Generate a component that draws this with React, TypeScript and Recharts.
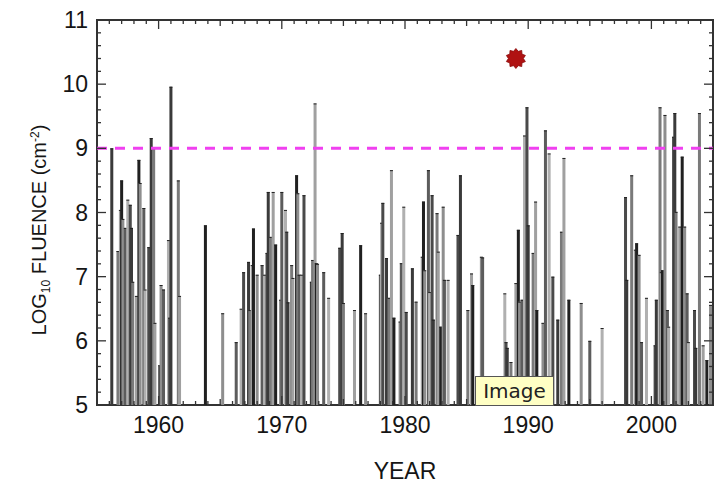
import React from "react";
import {
  ComposedChart,
  Bar,
  Cell,
  Scatter,
  XAxis,
  YAxis,
  ReferenceLine,
  ReferenceArea,
} from "recharts";

// Event years and peak fluence (log10 cm^-2)
const eventYears = [
  1956.2, 1956.7, 1956.9, 1957.0, 1957.1, 1957.3, 1957.5, 1957.7, 1957.8, 1957.9,
  1958.2, 1958.4, 1958.5, 1958.8, 1958.9, 1959.2, 1959.4, 1959.6, 1959.7, 1960.1,
  1960.2, 1960.4, 1960.8, 1960.9, 1961.0, 1961.6, 1961.7, 1963.8, 1965.2, 1966.3,
  1966.7, 1966.9, 1967.3, 1967.4, 1967.6, 1967.7, 1968.0, 1968.4, 1968.6, 1968.8,
  1968.9, 1969.1, 1969.3, 1969.5, 1969.9, 1970.0, 1970.3, 1970.4, 1970.5, 1970.8,
  1970.9, 1971.2, 1971.3, 1971.4, 1971.6, 1971.8, 1972.4, 1972.5, 1972.7, 1972.8,
  1972.9, 1973.4, 1973.8, 1974.7, 1974.9, 1975.0, 1975.9, 1976.4, 1976.8, 1978.0,
  1978.1, 1978.2, 1978.5, 1978.7, 1978.9, 1979.1, 1979.6, 1979.7, 1979.9, 1980.1,
  1980.6, 1980.9, 1981.4, 1981.5, 1981.6, 1981.9, 1982.0, 1982.2, 1982.3, 1982.6,
  1982.7, 1982.9, 1983.1, 1983.2, 1983.5, 1984.3, 1984.5, 1985.1, 1985.4, 1985.5,
  1986.2, 1986.3, 1988.1, 1988.2, 1988.3, 1988.6, 1989.0, 1989.2, 1989.3, 1989.5,
  1989.7, 1989.9, 1990.0, 1990.4, 1990.6, 1990.7, 1991.2, 1991.4, 1991.7, 1992.0,
  1992.4, 1992.7, 1992.9, 1993.3, 1994.3, 1995.0, 1996.0, 1997.9, 1998.0, 1998.4,
  1998.7, 1998.8, 1999.0, 1999.2, 1999.6, 2000.3, 2000.4, 2000.7, 2000.8, 2000.9,
  2001.1, 2001.3, 2001.4, 2001.8, 2001.9, 2002.0, 2002.3, 2002.5, 2002.7, 2002.9,
  2003.0, 2003.5, 2003.6, 2003.9, 2004.2, 2004.5, 2004.8,
];

const eventFluence = [
  9.0, 7.4, 8.04, 8.5, 7.9, 7.76, 8.2, 8.12, 7.76, 6.92,
  6.7, 8.82, 8.46, 8.07, 6.8, 7.46, 9.16, 9.0, 6.28, 5.62,
  6.87, 6.8, 7.57, 6.36, 9.96, 8.5, 6.7, 7.8, 6.43, 5.98,
  6.5, 7.07, 7.23, 6.48, 7.18, 7.75, 7.03, 7.18, 7.03, 7.37,
  8.32, 7.62, 8.32, 7.5, 6.64, 8.32, 8.04, 7.7, 6.6, 7.18,
  6.98, 8.58, 8.3, 7.03, 7.03, 8.27, 6.92, 7.26, 9.7, 7.21,
  7.2, 7.07, 6.67, 7.45, 7.68, 6.59, 6.48, 7.49, 6.43, 7.03,
  7.84, 8.15, 7.29, 6.67, 8.66, 6.36, 6.3, 7.21, 8.09, 6.45,
  7.13, 6.61, 7.31, 8.17, 7.1, 8.66, 6.76, 8.27, 6.33, 7.99,
  7.39, 6.22, 8.09, 6.95, 6.95, 7.65, 8.58, 6.48, 7.05, 6.87,
  7.31, 7.3, 6.74, 5.98, 5.89, 5.67, 6.9, 7.73, 6.61, 6.64,
  9.2, 9.64, 7.8, 7.37, 8.17, 6.48, 6.28, 9.28, 8.92, 7.0,
  6.33, 7.7, 8.85, 6.64, 6.59, 6.0, 6.2, 8.24, 6.95, 8.58,
  7.42, 7.52, 7.34, 5.98, 6.67, 5.93, 6.64, 9.64, 7.07, 7.1,
  9.52, 6.48, 6.22, 9.18, 9.55, 8.01, 7.78, 8.87, 7.78, 6.74,
  5.98, 6.48, 5.89, 9.55, 5.93, 5.7, 6.56,
];

// The highlighted event (red star)
const markerYears = [1989.0];
const markerFluence = [10.4];

const thresholdFluence = 9;
const xMajorTicks = [1960, 1970, 1980, 1990, 2000];
const yMajorTicks = [5, 6, 7, 8, 9, 10, 11];

const X_DOMAIN: [number, number] = [1955, 2005];
const Y_DOMAIN: [number, number] = [5, 11];

// plot box in pixels
const PLOT_LEFT = 97;
const PLOT_RIGHT = 713;
const PLOT_TOP = 20;
const PLOT_BOTTOM = 405;

const FONT = '"Liberation Sans", Arial, Helvetica, sans-serif';
const INK = "#151515";
const shades = ["#3a3a3a", "#7a7a7a", "#a0a0a0", "#202020", "#8e8e8e", "#5c5c5c", "#b0b0b0", "#4a4a4a"];

const events = eventYears.map((year, i) => ({ year, value: eventFluence[i] }));
const marker = markerYears.map((year, i) => ({ year, value: markerFluence[i] }));

const xTicks: number[] = [];
for (let y = X_DOMAIN[0]; y <= X_DOMAIN[1]; y++) xTicks.push(y);
const yTicks: number[] = [];
for (let v = 0; v <= 30; v++) yTicks.push(Number((Y_DOMAIN[0] + v * 0.2).toFixed(1)));

const XTick = (props: any) => {
  const { x, payload } = props;
  const major = xMajorTicks.includes(payload.value);
  const mid = payload.value % 5 === 0;
  const len = major ? 9 : mid ? 6 : 4;
  return (
    <g>
      <line x1={x} x2={x} y1={PLOT_BOTTOM} y2={PLOT_BOTTOM - len} stroke="#333" strokeWidth={1.3} />
      <line x1={x} x2={x} y1={PLOT_TOP} y2={PLOT_TOP + len} stroke="#333" strokeWidth={1.3} />
      {major && (
        <text x={x} y={PLOT_BOTTOM + 28} textAnchor="middle" fontFamily={FONT} fontSize={23} fill={INK}>
          {payload.value}
        </text>
      )}
    </g>
  );
};

const YTick = (props: any) => {
  const { y, payload } = props;
  const major = yMajorTicks.includes(payload.value);
  const len = major ? 9 : 4;
  return (
    <g>
      <line x1={PLOT_LEFT} x2={PLOT_LEFT + len} y1={y} y2={y} stroke="#333" strokeWidth={1.3} />
      <line x1={PLOT_RIGHT} x2={PLOT_RIGHT - len} y1={y} y2={y} stroke="#333" strokeWidth={1.3} />
      {major && (
        <text x={PLOT_LEFT - 9} y={y + 8} textAnchor="end" fontFamily={FONT} fontSize={23} fill={INK}>
          {payload.value}
        </text>
      )}
    </g>
  );
};

const YTitle = () => (
  <text
    x={46}
    y={230}
    transform="rotate(-90, 46, 230)"
    textAnchor="middle"
    fontFamily={FONT}
    fontSize={20}
    fill={INK}
  >
    LOG
    <tspan fontSize={12} dy={4}>10</tspan>
    <tspan dy={-4}> FLUENCE  (cm</tspan>
    <tspan fontSize={12} dy={-7}>-2</tspan>
    <tspan dy={7}>)</tspan>
  </text>
);

const XTitle = () => (
  <text x={405} y={479} textAnchor="middle" fontFamily={FONT} fontSize={23} fill={INK}>
    YEAR
  </text>
);

// a 3px-wide stick from the value down to the axis
const Stick = (props: any) => {
  const { x, y, width, height, index } = props;
  if (height == null || height <= 0) return null;
  const cx = x + width / 2;
  return (
    <g>
      <rect x={cx - 1.5} y={y} width={3} height={height} fill={shades[index % shades.length]} />
      <line x1={cx - 1.5} x2={cx + 1.5} y1={y + 0.5} y2={y + 0.5} stroke="#222" strokeWidth={1} />
    </g>
  );
};

// many-pointed blob star like the original marker
const Star = (props: any) => {
  const { cx, cy } = props;
  const pts: string[] = [];
  const n = 10;
  for (let i = 0; i < n * 2; i++) {
    const r = i % 2 === 0 ? 10 : 7.5;
    const a = (Math.PI * i) / n;
    pts.push(`${cx + r * Math.sin(a)},${cy - r * Math.cos(a)}`);
  }
  return <polygon points={pts.join(" ")} fill="#b01212" stroke="#8a0c0c" strokeWidth={0.8} />;
};

export default function App() {
  return (
    <div style={{ position: "absolute", left: 0, top: 0, width: 722, height: 483, background: "#fff" }}>
      <ComposedChart
        width={722}
        height={483}
        data={events}
        margin={{ top: PLOT_TOP, right: 722 - PLOT_RIGHT, bottom: 0, left: 0 }}
      >
        <XAxis
          dataKey="year"
          type="number"
          domain={X_DOMAIN}
          allowDataOverflow
          ticks={xTicks}
          interval={0}
          height={483 - PLOT_BOTTOM}
          axisLine={false}
          tickLine={false}
          tick={<XTick />}
          label={<XTitle />}
        />
        <YAxis
          type="number"
          domain={Y_DOMAIN}
          allowDataOverflow
          ticks={yTicks}
          interval={0}
          width={PLOT_LEFT}
          axisLine={false}
          tickLine={false}
          tick={<YTick />}
          label={<YTitle />}
        />
        <Bar dataKey="value" isAnimationActive={false} shape={<Stick />}>
          {events.map((_, i) => (
            <Cell key={i} fill={shades[i % shades.length]} />
          ))}
        </Bar>
        <ReferenceLine
          y={thresholdFluence}
          stroke="#f040f0"
          strokeWidth={3}
          strokeDasharray="10 8"
        />
        <Scatter data={marker} dataKey="value" shape={<Star />} isAnimationActive={false} />
        <ReferenceArea
          x1={X_DOMAIN[0]}
          x2={X_DOMAIN[1]}
          y1={Y_DOMAIN[0]}
          y2={Y_DOMAIN[1]}
          fill="none"
          stroke="#333"
          strokeWidth={2}
          ifOverflow="visible"
        />
      </ComposedChart>
      <div
        style={{
          position: "absolute",
          left: 475,
          top: 376,
          width: 77,
          height: 28,
          background: "#ffffc4",
          border: "1px solid #555",
          fontFamily: '"DejaVu Sans", Verdana, sans-serif',
          fontSize: 20,
          lineHeight: "28px",
          textAlign: "center",
          color: "#222",
        }}
      >
        Image
      </div>
    </div>
  );
}
